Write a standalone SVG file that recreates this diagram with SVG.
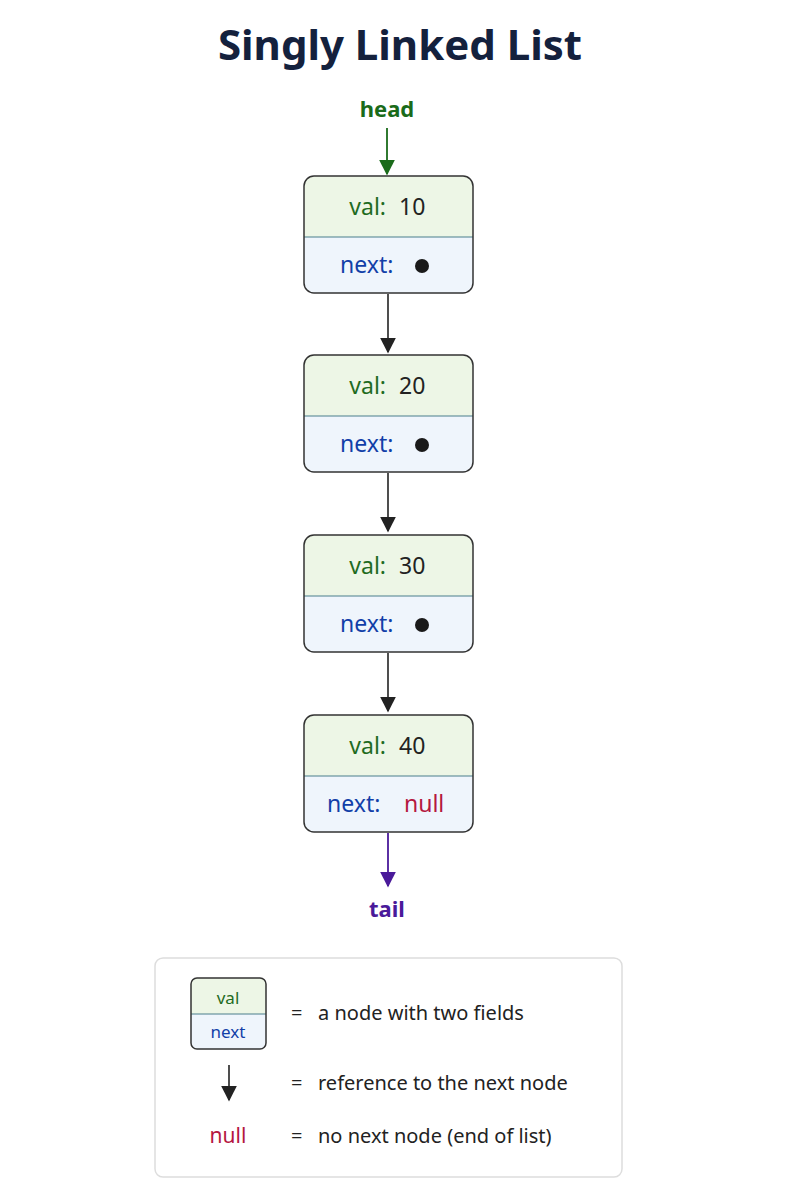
<svg xmlns="http://www.w3.org/2000/svg" width="800" height="1200" viewBox="0 0 800 1200">
<style>
text{font-family:"Noto Sans","Open Sans",sans-serif}
.box{fill:none;stroke:#333;stroke-width:1.5}
.top{fill:#edf6e6}
.bot{fill:#eff5fc}
.div{stroke:#4a7f8c;stroke-width:1.2}
.v{font-size:23px;fill:#1f6b1f;text-anchor:end}
.n{font-size:23px;fill:#123fa8}
.num{font-size:23px;fill:#222}
.null{fill:#b5183f}
.leg{font-size:20px;fill:#222}
.line{stroke:#222;stroke-width:1.6;fill:none}
</style>
<defs>
<marker id="ahk" viewBox="0 0 10 10" refX="9" refY="5" markerWidth="16" markerHeight="16" markerUnits="userSpaceOnUse" orient="auto"><path d="M0,0L10,5L0,10z" fill="#222"/></marker>
<marker id="ahg" viewBox="0 0 10 10" refX="9" refY="5" markerWidth="16" markerHeight="16" markerUnits="userSpaceOnUse" orient="auto"><path d="M0,0L10,5L0,10z" fill="#1a6b1a"/></marker>
<marker id="ahp" viewBox="0 0 10 10" refX="9" refY="5" markerWidth="16" markerHeight="16" markerUnits="userSpaceOnUse" orient="auto"><path d="M0,0L10,5L0,10z" fill="#4a1a9a"/></marker>
<clipPath id="c"><rect x="0" y="0" width="169" height="117" rx="10"/></clipPath>
</defs>
<text x="400" y="60" font-size="42" font-weight="bold" fill="#14213d" text-anchor="middle">Singly Linked List</text>
<text x="387" y="117" font-size="22" font-weight="bold" fill="#1a6b1a" text-anchor="middle">head</text>
<text x="387" y="917" font-size="22" font-weight="bold" fill="#4a1a9a" text-anchor="middle">tail</text>
<g id="connectors">
<line x1="387" y1="128" x2="387" y2="174" stroke="#1a6b1a" stroke-width="1.8" marker-end="url(#ahg)"/>
<line class="line" x1="388" y1="294" x2="388" y2="352" marker-end="url(#ahk)"/>
<line class="line" x1="388" y1="473" x2="388" y2="531" marker-end="url(#ahk)"/>
<line class="line" x1="388" y1="653" x2="388" y2="711" marker-end="url(#ahk)"/>
<line x1="388" y1="833" x2="388" y2="886" stroke="#4a1a9a" stroke-width="1.8" marker-end="url(#ahp)"/>
</g>
<g id="node1" transform="translate(304,176)">
<g clip-path="url(#c)"><rect class="top" width="169" height="61"/><rect class="bot" y="61" width="169" height="56"/></g>
<line class="div" x1="0" y1="61" x2="169" y2="61"/>
<rect class="box" width="169" height="117" rx="10"/>
<text class="v" x="82" y="39">val:</text><text class="num" x="95" y="39">10</text>
<text class="n" x="36" y="97">next:</text><circle cx="118" cy="90" r="7" fill="#1a1a1a"/>
</g>
<g id="node2" transform="translate(304,355)">
<g clip-path="url(#c)"><rect class="top" width="169" height="61"/><rect class="bot" y="61" width="169" height="56"/></g>
<line class="div" x1="0" y1="61" x2="169" y2="61"/>
<rect class="box" width="169" height="117" rx="10"/>
<text class="v" x="82" y="39">val:</text><text class="num" x="95" y="39">20</text>
<text class="n" x="36" y="97">next:</text><circle cx="118" cy="90" r="7" fill="#1a1a1a"/>
</g>
<g id="node3" transform="translate(304,535)">
<g clip-path="url(#c)"><rect class="top" width="169" height="61"/><rect class="bot" y="61" width="169" height="56"/></g>
<line class="div" x1="0" y1="61" x2="169" y2="61"/>
<rect class="box" width="169" height="117" rx="10"/>
<text class="v" x="82" y="39">val:</text><text class="num" x="95" y="39">30</text>
<text class="n" x="36" y="97">next:</text><circle cx="118" cy="90" r="7" fill="#1a1a1a"/>
</g>
<g id="node4" transform="translate(304,715)">
<g clip-path="url(#c)"><rect class="top" width="169" height="61"/><rect class="bot" y="61" width="169" height="56"/></g>
<line class="div" x1="0" y1="61" x2="169" y2="61"/>
<rect class="box" width="169" height="117" rx="10"/>
<text class="v" x="82" y="39">val:</text><text class="num" x="95" y="39">40</text>
<text class="n" x="23" y="97">next:</text><text class="n null" x="100" y="97">null</text>
</g>
<g id="legend">
<rect x="155" y="958" width="467" height="219" rx="8" fill="#fff" stroke="#ddd" stroke-width="1.5"/>
<rect x="191" y="978" width="75" height="36" rx="6" fill="#edf6e6"/>
<rect x="191" y="1014" width="75" height="35" rx="6" fill="#eff5fc"/>
<rect x="191" y="1008" width="75" height="12" fill="#eff5fc"/>
<rect x="191" y="1000" width="75" height="14" fill="#edf6e6"/>
<line x1="191" y1="1014" x2="266" y2="1014" stroke="#4a7f8c" stroke-width="1"/>
<rect x="191" y="978" width="75" height="71" rx="6" fill="none" stroke="#333" stroke-width="1.5"/>
<text x="228" y="1004" font-size="17" fill="#1f6b1f" text-anchor="middle">val</text>
<text x="228" y="1038" font-size="17" fill="#123fa8" text-anchor="middle">next</text>
<text class="leg" x="291" y="1020">=</text><text class="leg" x="318" y="1020">a node with two fields</text>
<line class="line" x1="229" y1="1065" x2="229" y2="1100" marker-end="url(#ahk)"/>
<text class="leg" x="291" y="1090">=</text><text class="leg" x="318" y="1090">reference to the next node</text>
<text x="228" y="1143" font-size="21" fill="#b5183f" text-anchor="middle">null</text>
<text class="leg" x="291" y="1143">=</text><text class="leg" x="318" y="1143">no next node (end of list)</text>
</g>
</svg>
